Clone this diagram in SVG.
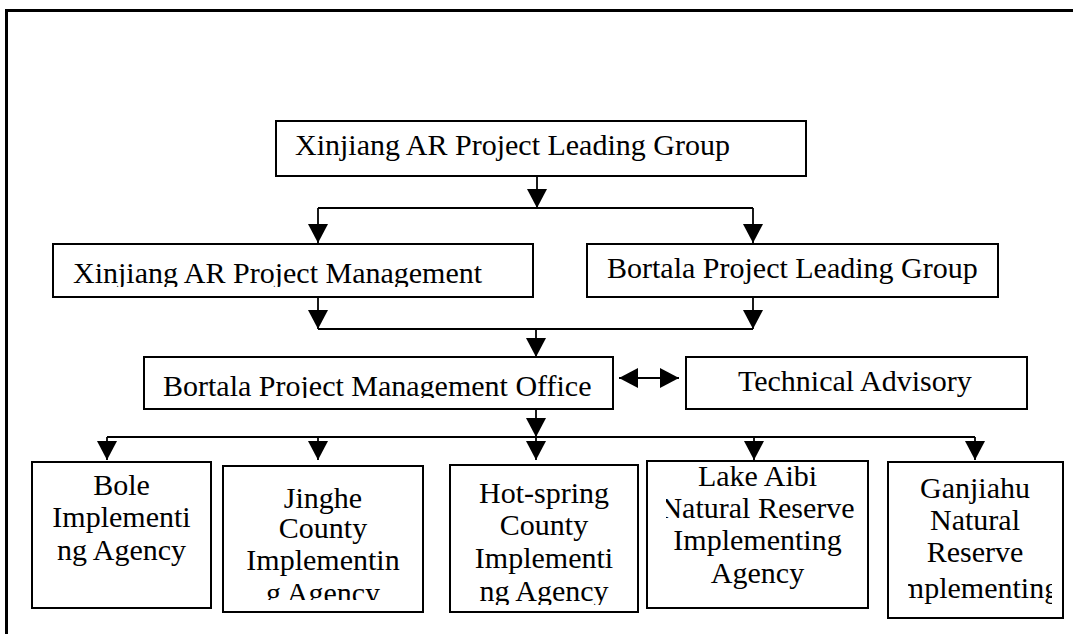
<svg xmlns="http://www.w3.org/2000/svg" width="1073" height="634" viewBox="0 0 1073 634">
<style>
.box{fill:#fff;stroke:#000;stroke-width:2}
.t{font-family:"Liberation Serif","Times New Roman",serif;font-size:30px;fill:#000}
.c{text-anchor:middle}
.ln{fill:none;stroke:#000;stroke-width:1.8}
</style>
<defs>
<marker id="ah" markerUnits="userSpaceOnUse" markerWidth="20" markerHeight="20" refX="19" refY="10" orient="auto-start-reverse">
<path d="M0,0 L19,10 L0,20 z" fill="#000"/>
</marker>
<clipPath id="cp2"><rect x="53" y="244" width="480" height="43"/></clipPath>
<clipPath id="cp4"><rect x="144" y="357" width="469" height="41"/></clipPath>
<clipPath id="cp7"><rect x="223" y="466" width="200" height="134"/></clipPath>
<clipPath id="cp8"><rect x="450" y="465" width="188" height="140"/></clipPath>
<clipPath id="cp9"><rect x="666" y="461" width="202" height="147"/></clipPath>
<clipPath id="cp10"><rect x="908" y="462" width="144" height="145"/></clipPath>
</defs>
<rect x="6.5" y="10.5" width="1100" height="700" fill="none" stroke="#000" stroke-width="3"/>
<g id="connectors">
<path class="ln" d="M537,176 V208" marker-end="url(#ah)"/>
<path class="ln" d="M318,208 H753"/>
<path class="ln" d="M318,208 V243" marker-end="url(#ah)"/>
<path class="ln" d="M753,208 V243" marker-end="url(#ah)"/>
<path class="ln" d="M318,297 V329" marker-end="url(#ah)"/>
<path class="ln" d="M753,297 V329" marker-end="url(#ah)"/>
<path class="ln" d="M318,329 H753"/>
<path class="ln" d="M536,329 V357" marker-end="url(#ah)"/>
<path class="ln" d="M619,378 H679" marker-start="url(#ah)" marker-end="url(#ah)"/>
<path class="ln" d="M536,409 V437" marker-end="url(#ah)"/>
<path class="ln" d="M107,437 H975"/>
<path class="ln" d="M107,437 V460" marker-end="url(#ah)"/>
<path class="ln" d="M318,437 V460" marker-end="url(#ah)"/>
<path class="ln" d="M536,437 V460" marker-end="url(#ah)"/>
<path class="ln" d="M754,437 V460" marker-end="url(#ah)"/>
<path class="ln" d="M975,437 V460" marker-end="url(#ah)"/>
</g>
<g id="n1"><rect class="box" x="276" y="121" width="530" height="55"/><text class="t" x="295" y="155">Xinjiang AR Project Leading Group</text></g>
<g id="n2"><rect class="box" x="53" y="244" width="480" height="53"/><text class="t" x="73" y="283" clip-path="url(#cp2)">Xinjiang AR Project Management</text></g>
<g id="n3"><rect class="box" x="587" y="244" width="411" height="53"/><text class="t" x="607" y="278">Bortala Project Leading Group</text></g>
<g id="n4"><rect class="box" x="144" y="357" width="469" height="52"/><text class="t" x="163" y="396" clip-path="url(#cp4)">Bortala Project Management Office</text></g>
<g id="n5"><rect class="box" x="686" y="357" width="341" height="52"/><text class="t" x="738" y="391">Technical Advisory</text></g>
<g id="n6"><rect class="box" x="32" y="462" width="179" height="146"/>
<text class="t c"><tspan x="121.5" y="495">Bole</tspan><tspan x="121.5" y="527">Implementi</tspan><tspan x="121.5" y="560">ng Agency</tspan></text></g>
<g id="n7"><rect class="box" x="223" y="466" width="200" height="146"/>
<text class="t c" clip-path="url(#cp7)"><tspan x="323" y="508">Jinghe</tspan><tspan x="323" y="538">County</tspan><tspan x="323" y="570">Implementin</tspan><tspan x="323" y="603">g Agency</tspan></text></g>
<g id="n8"><rect class="box" x="450" y="465" width="188" height="147"/>
<text class="t c" clip-path="url(#cp8)"><tspan x="544" y="503">Hot-spring</tspan><tspan x="544" y="535">County</tspan><tspan x="544" y="568">Implementi</tspan><tspan x="544" y="601">ng Agency</tspan></text></g>
<g id="n9"><rect class="box" x="647" y="461" width="221" height="147"/>
<text class="t c" clip-path="url(#cp9)"><tspan x="757.5" y="486">Lake Aibi</tspan><tspan x="757.5" y="518">Natural Reserve</tspan><tspan x="757.5" y="550">Implementing</tspan><tspan x="757.5" y="583">Agency</tspan></text></g>
<g id="n10"><rect class="box" x="888" y="462" width="175" height="156"/>
<text class="t c" clip-path="url(#cp10)"><tspan x="975" y="498">Ganjiahu</tspan><tspan x="975" y="530">Natural</tspan><tspan x="975" y="562">Reserve</tspan><tspan x="975" y="598">Implementing</tspan></text></g>
</svg>
